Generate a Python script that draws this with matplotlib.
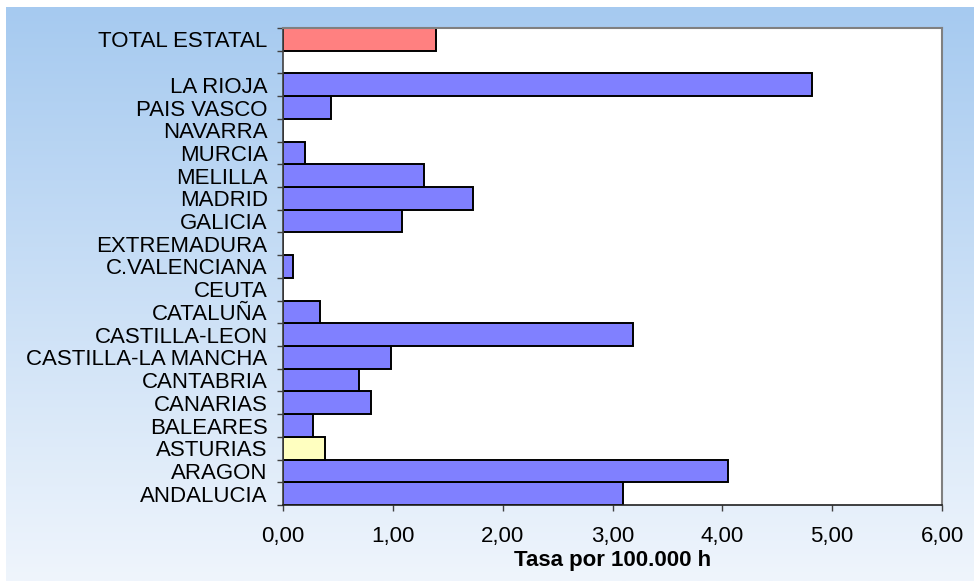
import matplotlib.pyplot as plt
import matplotlib.colors as mcolors
import numpy as np

plt.rcParams['font.family'] = ['Liberation Sans', 'DejaVu Sans']

regions = ["ANDALUCIA", "ARAGON", "ASTURIAS", "BALEARES", "CANARIAS", "CANTABRIA",
           "CASTILLA-LA MANCHA", "CASTILLA-LEON", "CATALUÑA", "CEUTA", "C.VALENCIANA",
           "EXTREMADURA", "GALICIA", "MADRID", "MELILLA", "MURCIA", "NAVARRA",
           "PAIS VASCO", "LA RIOJA"]
rates = [3.10, 4.05, 0.38, 0.27, 0.80, 0.69, 0.98, 3.19, 0.34, 0.00, 0.09,
         0.00, 1.08, 1.73, 1.28, 0.20, 0.00, 0.44, 4.82]
total_label = "TOTAL ESTATAL"
total_rate = 1.39
highlight = "ASTURIAS"
x_ticks = [0, 1, 2, 3, 4, 5, 6]

fig = plt.figure(figsize=(9.74, 5.81), dpi=100)
fig.patch.set_facecolor("white")

# gradient background
bg = fig.add_axes([6 / 974, 0, 968 / 974, 574 / 581], zorder=0)
top = np.array(mcolors.to_rgb("#A6CAF0"))
bot = np.array(mcolors.to_rgb("#EFF5FC"))
t = np.linspace(0, 1, 256)[:, None]
grad = top + (bot - top) * t
bg.imshow(grad[:, None, :], aspect="auto", extent=[0, 1, 0, 1])
bg.set_axis_off()

ax = fig.add_axes([283 / 974, 1 - 505 / 581, (942 - 283) / 974, (505 - 28) / 581], zorder=1)
ax.set_facecolor("white")

pos = list(range(len(regions)))
cols = ["#FFFFC0" if r == highlight else "#8080FF" for r in regions]
ax.barh(pos, rates, height=1.0, color=cols, edgecolor="black", linewidth=1.4)
total_pos = len(regions) + 1
ax.barh([total_pos], [total_rate], height=1.0, color="#FF8080", edgecolor="black", linewidth=1.4)

ax.set_ylim(-0.5, total_pos + 0.5)
ax.set_xlim(0, 6)
ax.set_yticks(pos + [total_pos])
ax.set_yticklabels(regions + [total_label])
ax.set_yticks(np.arange(-0.5, total_pos + 1), minor=True)
ax.tick_params(axis="y", which="major", length=0, pad=11, labelsize=16)
ax.tick_params(axis="y", which="minor", length=4.3, width=1, color="#404040")

ax.set_xticks(x_ticks)
ax.set_xticklabels([f"{v:.2f}".replace(".", ",") for v in x_ticks])
ax.tick_params(axis="x", length=4.3, width=1, color="#404040", labelsize=16, pad=11)
ax.set_xlabel("Tasa por 100.000 h", fontsize=16, fontweight="bold", labelpad=2)

for s in ["top", "right"]:
    ax.spines[s].set_color("#808080")
    ax.spines[s].set_linewidth(1.5)
ax.spines["left"].set_color("#404040")
ax.spines["bottom"].set_color("#202020")
ax.spines["left"].set_linewidth(1.2)
ax.spines["bottom"].set_linewidth(1.2)

fig.savefig("out.png", dpi=100)
